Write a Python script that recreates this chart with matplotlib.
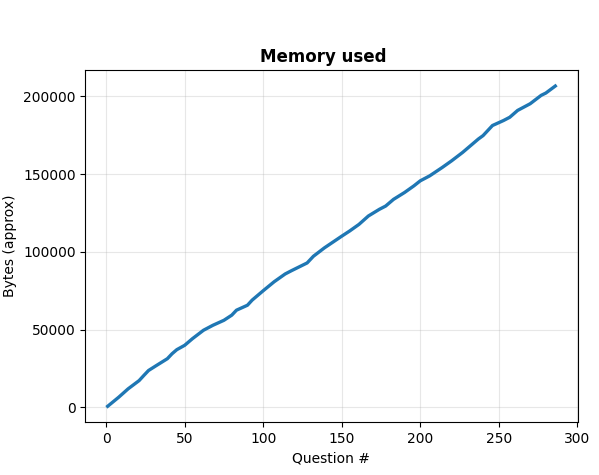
import matplotlib
matplotlib.use("Agg")
import matplotlib.pyplot as plt

questions = [1, 8, 14, 21, 24, 27, 32, 39, 42, 45, 50, 55, 62, 68, 75, 80, 83, 90, 93,
             100, 107, 114, 118, 128, 132, 139, 150, 155, 161, 167, 174, 178, 183, 190,
             196, 200, 206, 214, 220, 227, 232, 237, 240, 246, 253, 257, 262, 270, 277,
             280, 286]
bytes_used = [700, 6500, 11900, 17200, 20500, 23700, 26900, 31300, 34500, 37100, 39900,
              44200, 49600, 52800, 56000, 59300, 62500, 65700, 69000, 75000, 80800, 85800,
              87900, 92900, 97200, 102600, 110100, 113400, 117700, 123100, 127400, 129500,
              133800, 138200, 142500, 145700, 148900, 154300, 158600, 164000, 168300,
              172600, 174800, 181300, 184500, 186600, 191000, 195300, 200700, 202200,
              206700]

fig = plt.figure(figsize=(5.99, 4.75), dpi=100)
ax = fig.add_axes([0.1424, 0.111, 0.822, 0.7416])
ax.plot(questions, bytes_used, color="#1f77b4", linewidth=2.4)
ax.set_title("Memory used", fontweight="bold", x=0.4837)
ax.set_xlabel("Question #")
ax.set_ylabel("Bytes (approx)")
ax.grid(True, alpha=0.3)
fig.savefig("out.png", dpi=100)
